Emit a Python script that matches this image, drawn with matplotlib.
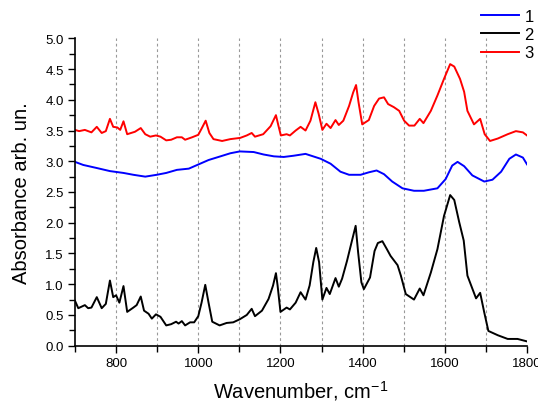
import matplotlib
matplotlib.use("Agg")
import matplotlib.pyplot as plt
from matplotlib.ticker import MultipleLocator
from matplotlib import font_manager as fm

names = {f.name for f in fm.fontManager.ttflist}
fam = "Liberation Sans Narrow" if "Liberation Sans Narrow" in names else "Liberation Sans"
plt.rcParams['font.family'] = [fam, 'DejaVu Sans']
plt.rcParams['mathtext.fontset'] = 'custom'
plt.rcParams['mathtext.rm'] = fam

# Series 1 (blue)
x1 = [700, 720, 753, 785, 818, 842, 871, 899, 922, 948, 977, 1001, 1025, 1054, 1078, 1101,
      1135, 1159, 1184, 1208, 1232, 1261, 1298, 1322, 1346, 1367, 1395, 1415, 1434, 1452,
      1472, 1497, 1525, 1549, 1582, 1602, 1618, 1631, 1647, 1667, 1696, 1716, 1737, 1757,
      1773, 1790, 1800]
y1 = [2.99, 2.94, 2.89, 2.84, 2.81, 2.78, 2.75, 2.78, 2.81, 2.86, 2.88, 2.95, 3.02, 3.08,
      3.13, 3.16, 3.15, 3.11, 3.08, 3.07, 3.09, 3.12, 3.04, 2.96, 2.83, 2.78, 2.78, 2.82,
      2.85, 2.79, 2.67, 2.56, 2.52, 2.52, 2.56, 2.71, 2.93, 2.99, 2.92, 2.77, 2.67, 2.70,
      2.83, 3.04, 3.11, 3.06, 2.95]

# Series 2 (black)
x2 = [700, 708, 724, 732, 740, 753, 765, 775, 785, 793, 800, 808, 818, 827, 842, 850, 860,
      868, 879, 887, 897, 908, 922, 934, 946, 952, 960, 968, 980, 990, 1000, 1008, 1017,
      1025, 1034, 1052, 1069, 1085, 1101, 1118, 1130, 1138, 1155, 1171, 1182, 1189, 1193,
      1200, 1215, 1223, 1237, 1249, 1261, 1271, 1280, 1287, 1294, 1302, 1312, 1320, 1334,
      1342, 1350, 1362, 1373, 1383, 1389, 1397, 1403, 1418, 1429, 1437, 1448, 1459, 1468,
      1485, 1493, 1505, 1525, 1539, 1548, 1566, 1582, 1598, 1613, 1623, 1635, 1646, 1655,
      1676, 1686, 1696, 1706, 1729, 1753, 1777, 1800]
y2 = [0.73, 0.61, 0.66, 0.61, 0.62, 0.79, 0.61, 0.68, 1.06, 0.79, 0.82, 0.70, 0.97, 0.55,
      0.62, 0.66, 0.80, 0.57, 0.52, 0.44, 0.51, 0.47, 0.33, 0.35, 0.39, 0.36, 0.40, 0.33,
      0.38, 0.38, 0.48, 0.70, 0.99, 0.70, 0.39, 0.33, 0.37, 0.38, 0.43, 0.50, 0.60, 0.48,
      0.57, 0.76, 0.98, 1.18, 0.98, 0.55, 0.62, 0.59, 0.70, 0.87, 0.75, 0.98, 1.36, 1.59,
      1.36, 0.75, 0.94, 0.84, 1.10, 0.96, 1.09, 1.38, 1.68, 1.95, 1.52, 1.03, 0.92, 1.11,
      1.54, 1.67, 1.70, 1.57, 1.46, 1.31, 1.14, 0.84, 0.75, 0.93, 0.82, 1.19, 1.57, 2.11,
      2.45, 2.37, 2.01, 1.71, 1.14, 0.77, 0.86, 0.54, 0.24, 0.17, 0.11, 0.11, 0.07]

# Series 3 (red)
x3 = [700, 710, 724, 740, 753, 765, 775, 785, 793, 803, 810, 818, 827, 846, 860, 871, 883,
      897, 908, 922, 934, 948, 960, 968, 985, 1000, 1008, 1018, 1027, 1037, 1058, 1078,
      1102, 1118, 1130, 1138, 1158, 1176, 1189, 1195, 1201, 1215, 1223, 1237, 1249, 1261,
      1273, 1285, 1293, 1302, 1312, 1322, 1334, 1342, 1353, 1367, 1377, 1384, 1390, 1399,
      1415, 1428, 1440, 1452, 1462, 1476, 1489, 1501, 1513, 1526, 1539, 1548, 1566, 1582,
      1598, 1613, 1623, 1637, 1647, 1655, 1671, 1686, 1697, 1710, 1729, 1753, 1773, 1790,
      1800]
y3 = [3.51, 3.49, 3.51, 3.47, 3.56, 3.46, 3.49, 3.69, 3.56, 3.55, 3.51, 3.65, 3.44, 3.48,
      3.54, 3.44, 3.40, 3.42, 3.40, 3.34, 3.35, 3.39, 3.39, 3.35, 3.39, 3.43, 3.53, 3.66,
      3.46, 3.36, 3.33, 3.36, 3.38, 3.42, 3.46, 3.40, 3.44, 3.57, 3.75, 3.58, 3.42, 3.44,
      3.42, 3.50, 3.56, 3.50, 3.66, 3.96, 3.77, 3.51, 3.61, 3.54, 3.67, 3.59, 3.66, 3.90,
      4.12, 4.24, 3.96, 3.60, 3.67, 3.90, 4.02, 4.04, 3.93, 3.88, 3.82, 3.66, 3.58, 3.58,
      3.69, 3.62, 3.82, 4.07, 4.34, 4.58, 4.54, 4.34, 4.13, 3.82, 3.60, 3.69, 3.44, 3.33,
      3.37, 3.44, 3.49, 3.47, 3.42]

labels = ["1", "2", "3"]
colors = ["#0000ff", "#000000", "#ff0000"]
xticks = [800, 1000, 1200, 1400, 1600, 1800]
yticks = [0.0, 0.5, 1.0, 1.5, 2.0, 2.5, 3.0, 3.5, 4.0, 4.5, 5.0]

fig = plt.figure(figsize=(5.38, 4.02), dpi=100)
ax = fig.add_axes([75/538, 1-346.7/402, (527-75)/538, (346.7-39.3)/402])

for xv in range(800, 1800, 100):
    ax.axvline(xv, color="#999999", lw=0.8, ls=(0, (2.5, 2.5)), zorder=0)

lines = []
for xs, ys, lab, c in zip([x1, x2, x3], [y1, y2, y3], labels, colors):
    l, = ax.plot(xs, ys, color=c, lw=1.4, label=lab, solid_joinstyle='round')
    lines.append(l)

ax.set_xlim(700, 1800)
ax.set_ylim(0, 5.0)
ax.set_xticks(xticks)
ax.set_yticks(yticks)
ax.set_yticklabels([f"{v:.1f}" for v in yticks])
ax.xaxis.set_minor_locator(MultipleLocator(100))
ax.yaxis.set_minor_locator(MultipleLocator(0.25))
ax.tick_params(which='both', direction='out', labelsize=9.5, width=1)
ax.tick_params(which='major', length=5, pad=3)
ax.tick_params(which='minor', length=4)
ax.spines['top'].set_visible(False)
ax.spines['right'].set_visible(False)
ax.spines['left'].set_linewidth(1.2)
ax.spines['bottom'].set_linewidth(1.2)

ax.set_xlabel("Wavenumber, cm$^{-1}$", fontsize=14.5, labelpad=7)
ax.set_ylabel("Absorbance arb. un.", fontsize=14.5, labelpad=10)

fig.legend(handles=lines, labels=labels, loc='upper right', bbox_to_anchor=(0.995, 0.98),
           frameon=False, fontsize=12, handlelength=2.3, handletextpad=0.3,
           labelspacing=0.2, borderaxespad=0.0, borderpad=0.1)

fig.savefig("out.png", dpi=100)
